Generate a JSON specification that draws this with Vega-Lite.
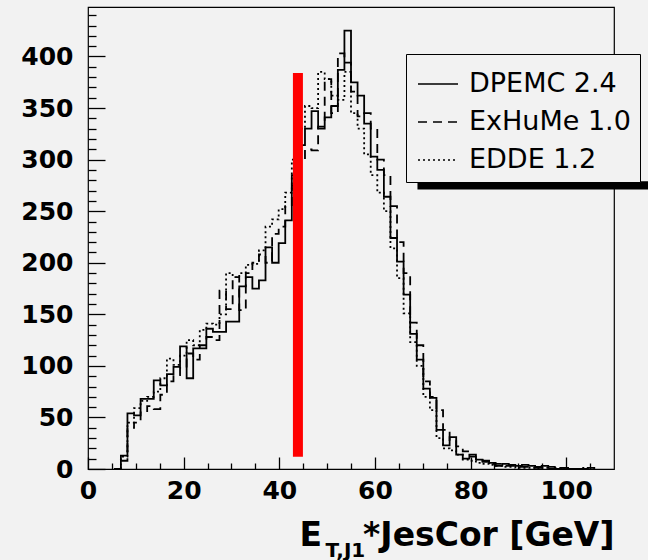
{
  "$schema": "https://vega.github.io/schema/vega-lite/v6.json",
  "width": 526,
  "height": 462,
  "autosize": "none",
  "padding": {"left": 88, "top": 7, "right": 34, "bottom": 91},
  "background": "#f2f2f2",
  "config": {
    "view": {"stroke": "black", "strokeWidth": 1.2},
    "axis": {
      "zindex": 1,
      "domain": false,
      "grid": false,
      "tickColor": "black",
      "tickWidth": 1.3,
      "labelColor": "black",
      "labelFont": "DejaVu Sans",
      "labelFontWeight": "bold",
      "labelFontSize": 25,
      "titleColor": "black",
      "titleFont": "DejaVu Sans",
      "titleFontWeight": "bold"
    }
  },
  "datasets": {
    "hist": [
      {"s": "DPEMC 2.4", "x": 5.5, "n": 0},
      {"s": "DPEMC 2.4", "x": 6.875, "n": 13},
      {"s": "DPEMC 2.4", "x": 8.25, "n": 54},
      {"s": "DPEMC 2.4", "x": 9.625, "n": 52},
      {"s": "DPEMC 2.4", "x": 11, "n": 68},
      {"s": "DPEMC 2.4", "x": 12.375, "n": 68},
      {"s": "DPEMC 2.4", "x": 13.75, "n": 86},
      {"s": "DPEMC 2.4", "x": 15.125, "n": 81},
      {"s": "DPEMC 2.4", "x": 16.5, "n": 92},
      {"s": "DPEMC 2.4", "x": 17.875, "n": 99},
      {"s": "DPEMC 2.4", "x": 19.25, "n": 119},
      {"s": "DPEMC 2.4", "x": 20.625, "n": 88},
      {"s": "DPEMC 2.4", "x": 22, "n": 117},
      {"s": "DPEMC 2.4", "x": 23.375, "n": 117},
      {"s": "DPEMC 2.4", "x": 24.75, "n": 136},
      {"s": "DPEMC 2.4", "x": 26.125, "n": 133},
      {"s": "DPEMC 2.4", "x": 27.5, "n": 133},
      {"s": "DPEMC 2.4", "x": 28.875, "n": 143},
      {"s": "DPEMC 2.4", "x": 30.25, "n": 143},
      {"s": "DPEMC 2.4", "x": 31.625, "n": 177},
      {"s": "DPEMC 2.4", "x": 33, "n": 186},
      {"s": "DPEMC 2.4", "x": 34.375, "n": 175},
      {"s": "DPEMC 2.4", "x": 35.75, "n": 183},
      {"s": "DPEMC 2.4", "x": 37.125, "n": 215},
      {"s": "DPEMC 2.4", "x": 38.5, "n": 200},
      {"s": "DPEMC 2.4", "x": 39.875, "n": 219},
      {"s": "DPEMC 2.4", "x": 41.25, "n": 241},
      {"s": "DPEMC 2.4", "x": 42.625, "n": 285},
      {"s": "DPEMC 2.4", "x": 44, "n": 314},
      {"s": "DPEMC 2.4", "x": 45.375, "n": 330},
      {"s": "DPEMC 2.4", "x": 46.75, "n": 347},
      {"s": "DPEMC 2.4", "x": 48.125, "n": 330},
      {"s": "DPEMC 2.4", "x": 49.5, "n": 341},
      {"s": "DPEMC 2.4", "x": 50.875, "n": 352},
      {"s": "DPEMC 2.4", "x": 52.25, "n": 387},
      {"s": "DPEMC 2.4", "x": 53.625, "n": 425},
      {"s": "DPEMC 2.4", "x": 55, "n": 375},
      {"s": "DPEMC 2.4", "x": 56.375, "n": 362},
      {"s": "DPEMC 2.4", "x": 57.75, "n": 335},
      {"s": "DPEMC 2.4", "x": 59.125, "n": 303},
      {"s": "DPEMC 2.4", "x": 60.5, "n": 290},
      {"s": "DPEMC 2.4", "x": 61.875, "n": 264},
      {"s": "DPEMC 2.4", "x": 63.25, "n": 224},
      {"s": "DPEMC 2.4", "x": 64.625, "n": 201},
      {"s": "DPEMC 2.4", "x": 66, "n": 169},
      {"s": "DPEMC 2.4", "x": 67.375, "n": 131},
      {"s": "DPEMC 2.4", "x": 68.75, "n": 106},
      {"s": "DPEMC 2.4", "x": 70.125, "n": 78},
      {"s": "DPEMC 2.4", "x": 71.5, "n": 69},
      {"s": "DPEMC 2.4", "x": 72.875, "n": 38},
      {"s": "DPEMC 2.4", "x": 74.25, "n": 23},
      {"s": "DPEMC 2.4", "x": 75.625, "n": 31},
      {"s": "DPEMC 2.4", "x": 77, "n": 14},
      {"s": "DPEMC 2.4", "x": 78.375, "n": 10},
      {"s": "DPEMC 2.4", "x": 79.75, "n": 14},
      {"s": "DPEMC 2.4", "x": 81.125, "n": 9},
      {"s": "DPEMC 2.4", "x": 82.5, "n": 7},
      {"s": "DPEMC 2.4", "x": 83.875, "n": 6},
      {"s": "DPEMC 2.4", "x": 85.25, "n": 3},
      {"s": "DPEMC 2.4", "x": 86.625, "n": 5},
      {"s": "DPEMC 2.4", "x": 88, "n": 4},
      {"s": "DPEMC 2.4", "x": 89.375, "n": 3},
      {"s": "DPEMC 2.4", "x": 90.75, "n": 4},
      {"s": "DPEMC 2.4", "x": 92.125, "n": 3},
      {"s": "DPEMC 2.4", "x": 93.5, "n": 2},
      {"s": "DPEMC 2.4", "x": 94.875, "n": 3},
      {"s": "DPEMC 2.4", "x": 96.25, "n": 2},
      {"s": "DPEMC 2.4", "x": 97.625, "n": 0},
      {"s": "DPEMC 2.4", "x": 99, "n": 1},
      {"s": "DPEMC 2.4", "x": 100.375, "n": 0},
      {"s": "DPEMC 2.4", "x": 104.5, "n": 1},
      {"s": "DPEMC 2.4", "x": 105.875, "n": 0},

      {"s": "ExHuMe 1.0", "x": 5.5, "n": 0},
      {"s": "ExHuMe 1.0", "x": 6.875, "n": 8},
      {"s": "ExHuMe 1.0", "x": 8.25, "n": 40},
      {"s": "ExHuMe 1.0", "x": 9.625, "n": 45},
      {"s": "ExHuMe 1.0", "x": 11, "n": 55},
      {"s": "ExHuMe 1.0", "x": 12.375, "n": 61},
      {"s": "ExHuMe 1.0", "x": 13.75, "n": 58},
      {"s": "ExHuMe 1.0", "x": 15.125, "n": 72},
      {"s": "ExHuMe 1.0", "x": 16.5, "n": 85},
      {"s": "ExHuMe 1.0", "x": 17.875, "n": 91},
      {"s": "ExHuMe 1.0", "x": 19.25, "n": 98},
      {"s": "ExHuMe 1.0", "x": 20.625, "n": 112},
      {"s": "ExHuMe 1.0", "x": 22, "n": 106},
      {"s": "ExHuMe 1.0", "x": 23.375, "n": 120},
      {"s": "ExHuMe 1.0", "x": 24.75, "n": 128},
      {"s": "ExHuMe 1.0", "x": 26.125, "n": 125},
      {"s": "ExHuMe 1.0", "x": 27.5, "n": 173},
      {"s": "ExHuMe 1.0", "x": 28.875, "n": 155},
      {"s": "ExHuMe 1.0", "x": 30.25, "n": 186},
      {"s": "ExHuMe 1.0", "x": 31.625, "n": 154},
      {"s": "ExHuMe 1.0", "x": 33, "n": 190},
      {"s": "ExHuMe 1.0", "x": 34.375, "n": 200},
      {"s": "ExHuMe 1.0", "x": 35.75, "n": 208},
      {"s": "ExHuMe 1.0", "x": 37.125, "n": 200},
      {"s": "ExHuMe 1.0", "x": 38.5, "n": 228},
      {"s": "ExHuMe 1.0", "x": 39.875, "n": 235},
      {"s": "ExHuMe 1.0", "x": 41.25, "n": 255},
      {"s": "ExHuMe 1.0", "x": 42.625, "n": 275},
      {"s": "ExHuMe 1.0", "x": 44, "n": 300},
      {"s": "ExHuMe 1.0", "x": 45.375, "n": 310},
      {"s": "ExHuMe 1.0", "x": 46.75, "n": 309},
      {"s": "ExHuMe 1.0", "x": 48.125, "n": 332},
      {"s": "ExHuMe 1.0", "x": 49.5, "n": 378},
      {"s": "ExHuMe 1.0", "x": 50.875, "n": 345},
      {"s": "ExHuMe 1.0", "x": 52.25, "n": 403},
      {"s": "ExHuMe 1.0", "x": 53.625, "n": 394},
      {"s": "ExHuMe 1.0", "x": 55, "n": 366},
      {"s": "ExHuMe 1.0", "x": 56.375, "n": 342},
      {"s": "ExHuMe 1.0", "x": 57.75, "n": 345},
      {"s": "ExHuMe 1.0", "x": 59.125, "n": 330},
      {"s": "ExHuMe 1.0", "x": 60.5, "n": 300},
      {"s": "ExHuMe 1.0", "x": 61.875, "n": 285},
      {"s": "ExHuMe 1.0", "x": 63.25, "n": 255},
      {"s": "ExHuMe 1.0", "x": 64.625, "n": 220},
      {"s": "ExHuMe 1.0", "x": 66, "n": 190},
      {"s": "ExHuMe 1.0", "x": 67.375, "n": 142},
      {"s": "ExHuMe 1.0", "x": 68.75, "n": 120},
      {"s": "ExHuMe 1.0", "x": 70.125, "n": 85},
      {"s": "ExHuMe 1.0", "x": 71.5, "n": 70},
      {"s": "ExHuMe 1.0", "x": 72.875, "n": 57},
      {"s": "ExHuMe 1.0", "x": 74.25, "n": 38},
      {"s": "ExHuMe 1.0", "x": 75.625, "n": 28},
      {"s": "ExHuMe 1.0", "x": 77, "n": 22},
      {"s": "ExHuMe 1.0", "x": 78.375, "n": 17},
      {"s": "ExHuMe 1.0", "x": 79.75, "n": 12},
      {"s": "ExHuMe 1.0", "x": 81.125, "n": 10},
      {"s": "ExHuMe 1.0", "x": 82.5, "n": 8},
      {"s": "ExHuMe 1.0", "x": 83.875, "n": 5},
      {"s": "ExHuMe 1.0", "x": 85.25, "n": 5},
      {"s": "ExHuMe 1.0", "x": 86.625, "n": 3},
      {"s": "ExHuMe 1.0", "x": 88, "n": 3},
      {"s": "ExHuMe 1.0", "x": 89.375, "n": 2},
      {"s": "ExHuMe 1.0", "x": 90.75, "n": 2},
      {"s": "ExHuMe 1.0", "x": 92.125, "n": 1},
      {"s": "ExHuMe 1.0", "x": 93.5, "n": 1},
      {"s": "ExHuMe 1.0", "x": 94.875, "n": 1},
      {"s": "ExHuMe 1.0", "x": 96.25, "n": 0},
      {"s": "ExHuMe 1.0", "x": 99, "n": 1},
      {"s": "ExHuMe 1.0", "x": 100.375, "n": 0},

      {"s": "EDDE 1.2", "x": 5.5, "n": 0},
      {"s": "EDDE 1.2", "x": 6.875, "n": 12},
      {"s": "EDDE 1.2", "x": 8.25, "n": 45},
      {"s": "EDDE 1.2", "x": 9.625, "n": 59},
      {"s": "EDDE 1.2", "x": 11, "n": 66},
      {"s": "EDDE 1.2", "x": 12.375, "n": 70},
      {"s": "EDDE 1.2", "x": 13.75, "n": 75},
      {"s": "EDDE 1.2", "x": 15.125, "n": 88},
      {"s": "EDDE 1.2", "x": 16.5, "n": 107},
      {"s": "EDDE 1.2", "x": 17.875, "n": 101},
      {"s": "EDDE 1.2", "x": 19.25, "n": 110},
      {"s": "EDDE 1.2", "x": 20.625, "n": 125},
      {"s": "EDDE 1.2", "x": 22, "n": 120},
      {"s": "EDDE 1.2", "x": 23.375, "n": 135},
      {"s": "EDDE 1.2", "x": 24.75, "n": 141},
      {"s": "EDDE 1.2", "x": 26.125, "n": 140},
      {"s": "EDDE 1.2", "x": 27.5, "n": 150},
      {"s": "EDDE 1.2", "x": 28.875, "n": 190},
      {"s": "EDDE 1.2", "x": 30.25, "n": 186},
      {"s": "EDDE 1.2", "x": 31.625, "n": 190},
      {"s": "EDDE 1.2", "x": 33, "n": 198},
      {"s": "EDDE 1.2", "x": 34.375, "n": 199},
      {"s": "EDDE 1.2", "x": 35.75, "n": 212},
      {"s": "EDDE 1.2", "x": 37.125, "n": 235},
      {"s": "EDDE 1.2", "x": 38.5, "n": 242},
      {"s": "EDDE 1.2", "x": 39.875, "n": 252},
      {"s": "EDDE 1.2", "x": 41.25, "n": 268},
      {"s": "EDDE 1.2", "x": 42.625, "n": 300},
      {"s": "EDDE 1.2", "x": 44, "n": 330},
      {"s": "EDDE 1.2", "x": 45.375, "n": 352},
      {"s": "EDDE 1.2", "x": 46.75, "n": 350},
      {"s": "EDDE 1.2", "x": 48.125, "n": 385},
      {"s": "EDDE 1.2", "x": 49.5, "n": 378},
      {"s": "EDDE 1.2", "x": 50.875, "n": 362},
      {"s": "EDDE 1.2", "x": 52.25, "n": 358},
      {"s": "EDDE 1.2", "x": 53.625, "n": 385},
      {"s": "EDDE 1.2", "x": 55, "n": 345},
      {"s": "EDDE 1.2", "x": 56.375, "n": 330},
      {"s": "EDDE 1.2", "x": 57.75, "n": 305},
      {"s": "EDDE 1.2", "x": 59.125, "n": 285},
      {"s": "EDDE 1.2", "x": 60.5, "n": 268},
      {"s": "EDDE 1.2", "x": 61.875, "n": 250},
      {"s": "EDDE 1.2", "x": 63.25, "n": 214},
      {"s": "EDDE 1.2", "x": 64.625, "n": 185},
      {"s": "EDDE 1.2", "x": 66, "n": 151},
      {"s": "EDDE 1.2", "x": 67.375, "n": 123},
      {"s": "EDDE 1.2", "x": 68.75, "n": 100},
      {"s": "EDDE 1.2", "x": 70.125, "n": 70},
      {"s": "EDDE 1.2", "x": 71.5, "n": 57},
      {"s": "EDDE 1.2", "x": 72.875, "n": 30},
      {"s": "EDDE 1.2", "x": 74.25, "n": 20},
      {"s": "EDDE 1.2", "x": 75.625, "n": 18},
      {"s": "EDDE 1.2", "x": 77, "n": 14},
      {"s": "EDDE 1.2", "x": 78.375, "n": 9},
      {"s": "EDDE 1.2", "x": 79.75, "n": 8},
      {"s": "EDDE 1.2", "x": 81.125, "n": 6},
      {"s": "EDDE 1.2", "x": 82.5, "n": 5},
      {"s": "EDDE 1.2", "x": 83.875, "n": 4},
      {"s": "EDDE 1.2", "x": 85.25, "n": 3},
      {"s": "EDDE 1.2", "x": 86.625, "n": 2},
      {"s": "EDDE 1.2", "x": 88, "n": 2},
      {"s": "EDDE 1.2", "x": 89.375, "n": 1},
      {"s": "EDDE 1.2", "x": 90.75, "n": 1},
      {"s": "EDDE 1.2", "x": 92.125, "n": 1},
      {"s": "EDDE 1.2", "x": 93.5, "n": 0},
      {"s": "EDDE 1.2", "x": 94.875, "n": 1},
      {"s": "EDDE 1.2", "x": 96.25, "n": 0},
      {"s": "EDDE 1.2", "x": 97.625, "n": 1},
      {"s": "EDDE 1.2", "x": 99, "n": 0},
      {"s": "EDDE 1.2", "x": 103.125, "n": 1},
      {"s": "EDDE 1.2", "x": 104.5, "n": 0}
    ],
    "cut": [{"x": 43.9, "lo": 12, "hi": 384}]
  },
  "resolve": {"axis": {"x": "independent", "y": "independent"}},
  "layer": [
    {
      "description": "drop shadow under the legend box; its axes carry the minor ticks and the leading E of the x title",
      "data": {"values": [{}]},
      "mark": {"type": "rect", "color": "black"},
      "encoding": {
        "x": {
          "datum": 68.9,
          "type": "quantitative",
          "scale": {"domain": [0, 110], "nice": false, "zero": false},
          "axis": {
            "orient": "bottom",
            "offset": -6,
            "values": [5, 10, 15, 25, 30, 35, 45, 50, 55, 65, 70, 75, 85, 90, 95, 105],
            "tickSize": 6,
            "labels": false,
            "title": "E",
            "titleFontSize": 33,
            "titleAlign": "left",
            "titleBaseline": "alphabetic",
            "titleX": 211,
            "titleY": 82
          }
        },
        "x2": {"datum": 125},
        "y": {
          "datum": 271,
          "type": "quantitative",
          "scale": {"domain": [0, 448], "nice": false},
          "axis": {
            "orient": "left",
            "offset": -8,
            "values": [10, 20, 30, 40, 60, 70, 80, 90, 110, 120, 130, 140, 160, 170, 180, 190, 210, 220, 230, 240, 260, 270, 280, 290, 310, 320, 330, 340, 360, 370, 380, 390, 410, 420, 430, 440],
            "tickSize": 8,
            "labels": false,
            "title": null
          }
        },
        "y2": {"datum": 279}
      }
    },
    {
      "data": {"name": "hist"},
      "mark": {"type": "line", "interpolate": "step-after", "color": "black", "strokeWidth": 1.8, "strokeCap": "butt"},
      "encoding": {
        "x": {
          "field": "x",
          "type": "quantitative",
          "scale": {"domain": [0, 110], "nice": false, "zero": false},
          "axis": {
            "orient": "bottom",
            "offset": -12,
            "values": [0, 20, 40, 60, 80, 100],
            "tickSize": 12,
            "labelPadding": 9,
            "labelFlush": false,
            "labelOverlap": false,
            "title": "*JesCor [GeV]",
            "titleFontSize": 33,
            "titleAlign": "right",
            "titleBaseline": "alphabetic",
            "titleX": 526,
            "titleY": 88
          }
        },
        "y": {
          "field": "n",
          "type": "quantitative",
          "scale": {"domain": [0, 448], "nice": false},
          "axis": {
            "orient": "left",
            "offset": -17,
            "values": [0, 50, 100, 150, 200, 250, 300, 350, 400],
            "tickSize": 17,
            "labelPadding": 15,
            "labelOverlap": false,
            "labelFlush": false,
            "title": null
          }
        },
        "strokeDash": {
          "field": "s",
          "type": "nominal",
          "scale": {"domain": ["DPEMC 2.4", "ExHuMe 1.0", "EDDE 1.2"], "range": [[1, 0], [9, 6], [2, 3]]},
          "legend": {
            "title": null,
            "orient": "none",
            "legendX": 318,
            "legendY": 47,
            "padding": 9,
            "rowPadding": 4,
            "symbolType": "stroke",
            "symbolSize": 1600,
            "symbolOffset": 2,
            "symbolStrokeColor": "black",
            "symbolStrokeWidth": 1.5,
            "labelOffset": 10,
            "labelFont": "DejaVu Sans",
            "labelFontSize": 27,
            "labelColor": "black",
            "labelLimit": 400,
            "labelExpr": "datum.label + '\u00a0\u00a0\u00a0\u00a0\u00a0\u00a0'",
            "strokeColor": "black",
            "fillColor": "#f2f2f2"
          }
        }
      }
    },
    {
      "data": {"name": "cut"},
      "mark": {"type": "rule", "color": "#ff0000", "strokeWidth": 10, "strokeCap": "butt"},
      "encoding": {
        "x": {
          "field": "x",
          "type": "quantitative",
          "scale": {"domain": [0, 110], "nice": false, "zero": false},
          "axis": {
            "orient": "bottom",
            "title": "T,J1",
            "titleFontSize": 20,
            "titleAlign": "left",
            "titleBaseline": "alphabetic",
            "titleX": 237,
            "titleY": 87,
            "labels": false,
            "ticks": false,
            "grid": false
          }
        },
        "y": {"field": "lo", "type": "quantitative", "scale": {"domain": [0, 448], "nice": false}, "axis": null},
        "y2": {"field": "hi"}
      }
    }
  ]
}
